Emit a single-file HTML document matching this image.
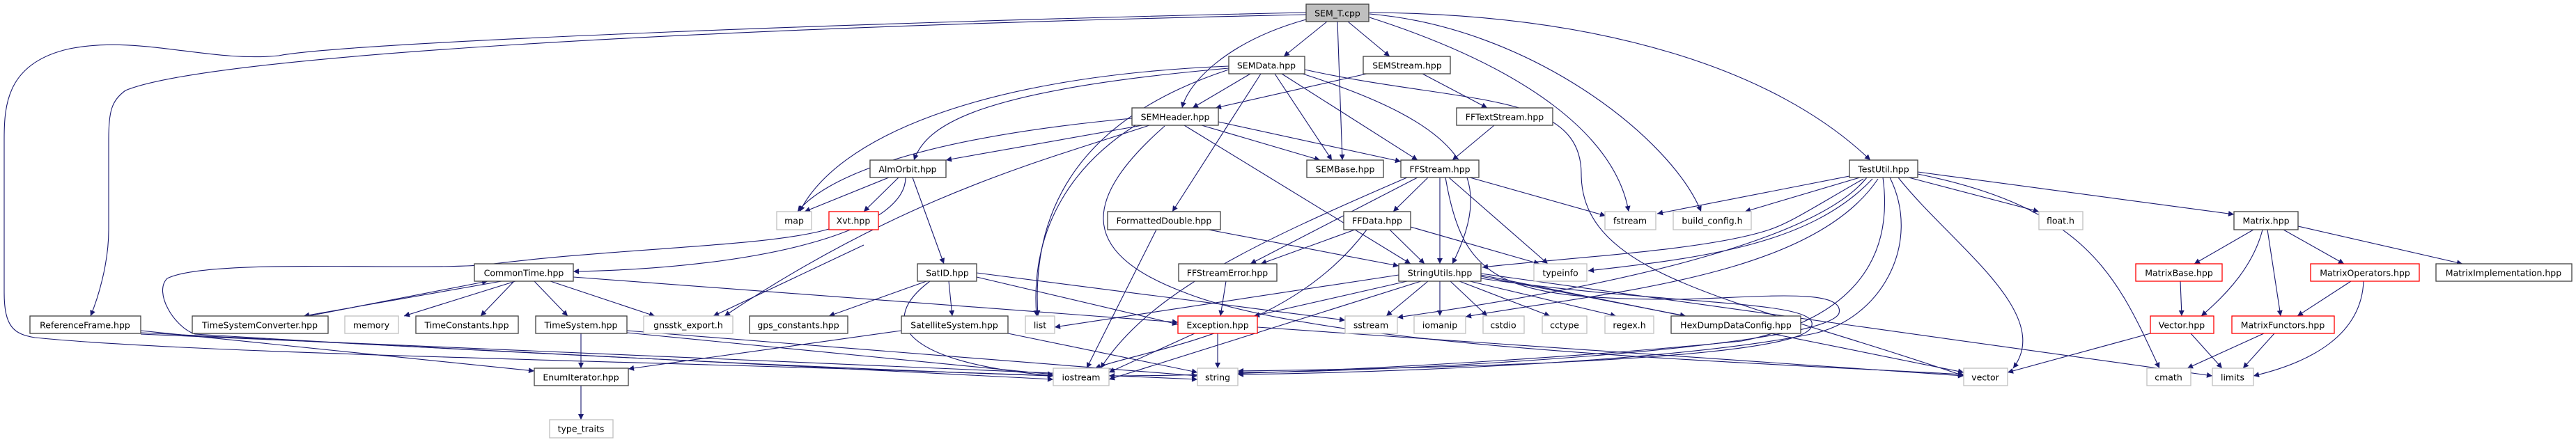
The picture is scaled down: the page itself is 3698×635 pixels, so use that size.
<!DOCTYPE html>
<html><head><meta charset="utf-8"><style>
html,body{margin:0;padding:0;background:#fff;}
svg{display:block}
text{font-family:"DejaVu Sans","Liberation Sans",sans-serif;font-size:12.5px;fill:#000;text-anchor:middle;dominant-baseline:central}
.e{fill:none;stroke:#191970;stroke-width:1.1}
.b{fill:#fff;stroke:#404040;stroke-width:1.3}
.g{fill:#fff;stroke:#bfbfbf;stroke-width:1.3}
.r{fill:#fff;stroke:#ff0000;stroke-width:1.3}
</style></head><body>
<svg width="3698" height="635" viewBox="0 0 3698 635" xmlns="http://www.w3.org/2000/svg">
<defs><marker id="a" viewBox="0 0 10 10" refX="10" refY="5" markerWidth="10" markerHeight="8" markerUnits="userSpaceOnUse" orient="auto"><path d="M0,0 L10,5 L0,10 z" fill="#191970"/></marker></defs>
<g class="e" marker-end="url(#a)">
<!-- SEM_T -->
<path d="M1905,31 L1843,81"/>
<path d="M1935,31 L1995,81"/>
<path d="M1920,31 L1927,230"/>
<path d="M1875,28 C1760,60 1705,120 1697,155"/>
<path d="M1966,25 C2200,100 2320,200 2338,304"/>
<path d="M1966,20 C2200,40 2400,200 2442,304"/>
<path d="M1966,18 C2300,20 2550,100 2685,230"/>
<path d="M1875,21 C1000,40 300,80 180,130 C160,145 156,160 156,200 L156,330 C156,380 140,430 130,454"/>
<path d="M1875,18 C1300,30 500,60 400,80 C300,90 200,50 100,70 C10,90 6,150 6,200 L6,420 C6,470 20,480 50,485 C300,510 1000,520 1512,540"/>
<!-- SEMData -->
<path d="M1795,106 L1712,155"/>
<path d="M1830,106 L1912,230"/>
<path d="M1840,106 L2035,230"/>
<path d="M1870,106 C2100,180 2150,250 2085,379"/>
<path d="M1873,100 C2100,150 2270,130 2270,250 C2270,400 2500,430 2819,540"/>
<path d="M1764,95 C1400,110 1200,200 1148,304"/>
<path d="M1764,98 C1400,130 1330,180 1312,230"/>
<path d="M1764,100 C1550,170 1480,300 1490,454"/>
<path d="M1810,106 L1683,304"/>
<!-- SEMStream -->
<path d="M1962,106 L1745,155"/>
<path d="M2042,106 L2135,155"/>
<path d="M2145,180 L2085,230"/>
<!-- SEMHeader -->
<path d="M1640,180 L1358,230"/>
<path d="M1725,180 L1895,230"/>
<path d="M1749,175 L2011,232"/>
<path d="M1625,170 C1300,200 1180,260 1145,304"/>
<path d="M1700,180 L2025,379"/>
<path d="M1630,180 C1520,250 1480,350 1488,454"/>
<path d="M1650,180 C1500,230 1300,280 1040,454"/>
<path d="M1672,181 C1560,280 1540,360 1700,420 C1900,500 2500,520 2819,538"/>
<!-- AlmOrbit -->
<path d="M1290,255 L1240,304"/>
<path d="M1276,255 L1155,304"/>
<path d="M1310,255 L1355,379"/>
<path d="M1300,255 C1300,330 1100,385 823,390"/>
<path d="M1190,329 C1100,355 900,355 700,380 C600,390 300,370 240,400 C220,420 250,470 280,480 C600,500 1200,530 1512,540"/>
<!-- CommonTime -->
<path d="M720,404 L436,454"/>
<path d="M443,454 L700,404"/>
<path d="M740,404 L580,454"/>
<path d="M738,404 L690,454"/>
<path d="M767,404 L815,454"/>
<path d="M790,404 L940,454"/>
<path d="M823,398 L1691,463"/>
<!-- SatID -->
<path d="M1330,404 L1190,454"/>
<path d="M1362,404 L1367,454"/>
<path d="M1335,404 C1260,460 1290,520 1512,540"/>
<path d="M1402,392 L1931,460"/>
<path d="M1402,398 L1691,466"/>
<path d="M1240,352 L1024,454"/>
<!-- SatelliteSystem / TimeSystem / ReferenceFrame -->
<path d="M1294,475 L902,530"/>
<path d="M1447,479 L1719,535"/>
<path d="M834,479 L834,529"/>
<path d="M900,475 L1719,540"/>
<path d="M900,478 L1512,538"/>
<path d="M202,475 L767,533"/>
<path d="M202,478 L1512,545"/>
<path d="M202,480 L1719,545"/>
<path d="M834,554 L834,603"/>
<!-- FormattedDouble -->
<path d="M1735,330 L2008,382"/>
<path d="M1660,330 L1560,529"/>
<!-- FFData -->
<path d="M1945,330 L1810,379"/>
<path d="M1995,330 L2045,379"/>
<path d="M2025,326 L2210,379"/>
<path d="M1962,330 C1850,480 1650,500 1572,529"/>
<!-- FFStream -->
<path d="M2050,255 L2000,304"/>
<path d="M2035,255 L1795,379"/>
<path d="M2067,255 L2067,379"/>
<path d="M2080,255 L2222,379"/>
<path d="M2110,255 L2305,310"/>
<path d="M2020,255 C1800,350 1650,420 1580,529"/>
<path d="M2075,255 C2100,400 2150,430 2400,430 C2500,430 2650,410 2640,450 C2620,500 2000,535 1777,535"/>
<!-- FFStreamError / Exception -->
<path d="M1760,404 L1752,454"/>
<path d="M1715,479 L1592,535"/>
<path d="M1748,479 L1748,529"/>
<path d="M1805,470 L2819,540"/>
<!-- StringUtils -->
<path d="M2008,395 L1514,470"/>
<path d="M2050,404 L1990,454"/>
<path d="M2067,404 L2067,454"/>
<path d="M2082,404 L2135,454"/>
<path d="M2095,404 L2225,454"/>
<path d="M2110,404 L2320,454"/>
<path d="M2126,397 L2420,454"/>
<path d="M2020,404 L1800,454"/>
<path d="M2040,404 L1592,545"/>
<path d="M2126,400 C2400,440 2620,430 2600,470 C2580,520 2000,530 1777,533"/>
<path d="M2126,395 L2819,535"/>
<path d="M2126,393 L3176,540"/>
<!-- TestUtil -->
<path d="M2675,257 C2600,300 2570,320 2540,330 C2450,360 2250,370 2128,384"/>
<path d="M2688,257 C2600,350 2450,370 2280,389"/>
<path d="M2670,255 L2505,304"/>
<path d="M2655,253 L2379,307"/>
<path d="M2740,255 L2927,304"/>
<path d="M2753,247 L3207,308"/>
<path d="M2753,250 C3000,300 3040,400 3100,529"/>
<path d="M2725,255 C2800,350 2950,450 2890,529"/>
<path d="M2713,255 C2760,350 2700,460 2600,480 C2400,520 2000,535 1777,538"/>
<path d="M2703,255 C2720,380 2650,460 2500,490 C2200,520 1800,540 1592,540"/>
<path d="M2696,257 C2600,400 2300,420 2104,455"/>
<path d="M2680,255 C2620,330 2400,400 2006,456"/>
<!-- Matrix -->
<path d="M3235,330 L3150,379"/>
<path d="M3248,330 C3235,380 3200,420 3160,454"/>
<path d="M3255,330 L3274,454"/>
<path d="M3278,330 L3365,379"/>
<path d="M3299,325 L3535,379"/>
<path d="M3130,404 L3132,454"/>
<path d="M3375,404 L3298,454"/>
<path d="M3393,404 C3390,480 3320,520 3235,540"/>
<path d="M3087,479 L2882,535"/>
<path d="M3145,479 L3190,529"/>
<path d="M3250,479 L3140,529"/>
<path d="M3265,479 L3220,529"/>
</g>
<g>
<rect class="b" x="1875" y="6" width="90" height="25" style="fill:#bfbfbf"/><text x="1920" y="19">SEM_T.cpp</text>
<rect class="b" x="1764" y="81" width="109" height="25"/><text x="1818" y="94">SEMData.hpp</text>
<rect class="b" x="1957" y="81" width="125" height="25"/><text x="2020" y="94">SEMStream.hpp</text>
<rect class="b" x="1625" y="155" width="124" height="25"/><text x="1687" y="168">SEMHeader.hpp</text>
<rect class="b" x="2091" y="155" width="138" height="25"/><text x="2160" y="168">FFTextStream.hpp</text>
<rect class="b" x="1249" y="230" width="109" height="25"/><text x="1303" y="243">AlmOrbit.hpp</text>
<rect class="b" x="1876" y="230" width="110" height="25"/><text x="1931" y="243">SEMBase.hpp</text>
<rect class="b" x="2011" y="230" width="112" height="25"/><text x="2067" y="243">FFStream.hpp</text>
<rect class="b" x="2655" y="230" width="98" height="25"/><text x="2704" y="243">TestUtil.hpp</text>
<rect class="g" x="1115" y="304" width="50" height="26"/><text x="1140" y="317">map</text>
<rect class="r" x="1190" y="304" width="71" height="26"/><text x="1225" y="317">Xvt.hpp</text>
<rect class="b" x="1590" y="304" width="162" height="26"/><text x="1671" y="317">FormattedDouble.hpp</text>
<rect class="b" x="1929" y="304" width="96" height="26"/><text x="1977" y="317">FFData.hpp</text>
<rect class="g" x="2304" y="304" width="73" height="26"/><text x="2340" y="317">fstream</text>
<rect class="g" x="2402" y="304" width="112" height="26"/><text x="2458" y="317">build_config.h</text>
<rect class="g" x="2927" y="304" width="63" height="26"/><text x="2958" y="317">float.h</text>
<rect class="b" x="3207" y="304" width="92" height="26"/><text x="3253" y="317">Matrix.hpp</text>
<rect class="b" x="681" y="379" width="142" height="25"/><text x="752" y="392">CommonTime.hpp</text>
<rect class="b" x="1317" y="379" width="85" height="25"/><text x="1360" y="392">SatID.hpp</text>
<rect class="b" x="1692" y="379" width="141" height="25"/><text x="1762" y="392">FFStreamError.hpp</text>
<rect class="b" x="2008" y="379" width="118" height="25"/><text x="2067" y="392">StringUtils.hpp</text>
<rect class="g" x="2202" y="379" width="76" height="25"/><text x="2240" y="392">typeinfo</text>
<rect class="r" x="3066" y="379" width="124" height="25"/><text x="3128" y="392">MatrixBase.hpp</text>
<rect class="r" x="3317" y="379" width="156" height="25"/><text x="3395" y="392">MatrixOperators.hpp</text>
<rect class="b" x="3497" y="379" width="195" height="25"/><text x="3594" y="392">MatrixImplementation.hpp</text>
<rect class="b" x="43" y="454" width="159" height="25"/><text x="122" y="467">ReferenceFrame.hpp</text>
<rect class="b" x="276" y="454" width="195" height="25"/><text x="373" y="467">TimeSystemConverter.hpp</text>
<rect class="g" x="495" y="454" width="77" height="25"/><text x="533" y="467">memory</text>
<rect class="b" x="597" y="454" width="147" height="25"/><text x="670" y="467">TimeConstants.hpp</text>
<rect class="b" x="769" y="454" width="131" height="25"/><text x="834" y="467">TimeSystem.hpp</text>
<rect class="g" x="924" y="454" width="128" height="25"/><text x="988" y="467">gnsstk_export.h</text>
<rect class="b" x="1076" y="454" width="141" height="25"/><text x="1146" y="467">gps_constants.hpp</text>
<rect class="b" x="1294" y="454" width="153" height="25"/><text x="1370" y="467">SatelliteSystem.hpp</text>
<rect class="g" x="1472" y="454" width="42" height="25"/><text x="1493" y="467">list</text>
<rect class="r" x="1691" y="454" width="114" height="25"/><text x="1748" y="467">Exception.hpp</text>
<rect class="g" x="1931" y="454" width="75" height="25"/><text x="1968" y="467">sstream</text>
<rect class="g" x="2030" y="454" width="74" height="25"/><text x="2067" y="467">iomanip</text>
<rect class="g" x="2129" y="454" width="59" height="25"/><text x="2158" y="467">cstdio</text>
<rect class="g" x="2214" y="454" width="64" height="25"/><text x="2246" y="467">cctype</text>
<rect class="g" x="2304" y="454" width="70" height="25"/><text x="2339" y="467">regex.h</text>
<rect class="b" x="2399" y="454" width="186" height="25"/><text x="2492" y="467">HexDumpDataConfig.hpp</text>
<rect class="r" x="3087" y="454" width="91" height="25"/><text x="3132" y="467">Vector.hpp</text>
<rect class="r" x="3204" y="454" width="147" height="25"/><text x="3277" y="467">MatrixFunctors.hpp</text>
<rect class="b" x="767" y="529" width="135" height="25"/><text x="834" y="542">EnumIterator.hpp</text>
<rect class="g" x="1512" y="529" width="80" height="25"/><text x="1552" y="542">iostream</text>
<rect class="g" x="1719" y="529" width="58" height="25"/><text x="1748" y="542">string</text>
<rect class="g" x="2819" y="529" width="63" height="25"/><text x="2850" y="542">vector</text>
<rect class="g" x="3082" y="529" width="63" height="25"/><text x="3113" y="542">cmath</text>
<rect class="g" x="3176" y="529" width="59" height="25"/><text x="3205" y="542">limits</text>
<rect class="g" x="789" y="603" width="91" height="26"/><text x="834" y="616">type_traits</text>
</g>
</svg>
</body></html>
